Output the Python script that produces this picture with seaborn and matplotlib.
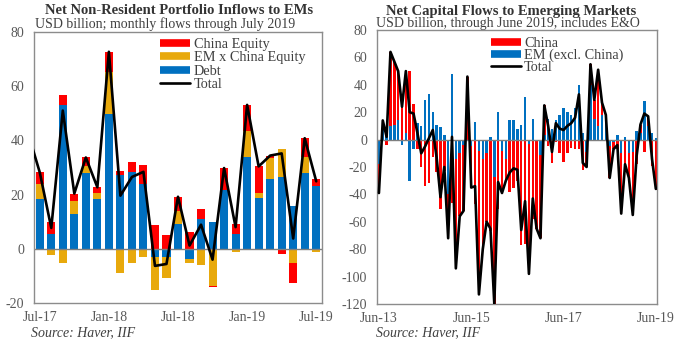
import numpy as np
import pandas as pd
import matplotlib
matplotlib.use("Agg")
import matplotlib.pyplot as plt
import seaborn as sns
from matplotlib.lines import Line2D

sns.set_style("white")
plt.rcParams["font.family"] = ["Liberation Serif", "DejaVu Serif"]

# ---------------- Left chart data ----------------
left_months = ["Jul-17", "Aug-17", "Sep-17", "Oct-17", "Nov-17", "Dec-17",
               "Jan-18", "Feb-18", "Mar-18", "Apr-18", "May-18", "Jun-18",
               "Jul-18", "Aug-18", "Sep-18", "Oct-18", "Nov-18", "Dec-18",
               "Jan-19", "Feb-19", "Mar-19", "Apr-19", "May-19", "Jun-19", "Jul-19"]
debt = [18.3, 5.3, 53.0, 12.9, 27.9, 18.3, 49.6, 27.3, 28.3, 23.9, -3.1, -3.1,
        9.3, -3.7, 11.0, 9.8, 21.8, 5.3, 33.7, 18.6, 25.7, 26.5, 15.9, 27.8, 23.3]
em_x_china_equity = [5.6, -2.3, -5.2, 4.7, 2.5, 2.2, 15.7, -8.9, -5.3, -2.9, -12.1, -7.8,
                     4.8, -1.5, -5.8, -13.7, -0.5, -1.2, 9.8, 2.1, 7.7, 10.4, -5.1, 5.9, -1.2]
china_equity = [4.3, 4.7, 3.9, 2.8, 3.3, 2.2, 7.4, 1.5, 3.7, 7.1, 8.8, 5.1,
                5.1, 6.3, 3.7, -0.3, 8.2, 3.9, 9.6, 9.7, 1.0, -1.8, -7.4, 7.1, 2.5]
left_total_months = ["Jun-17"] + left_months
left_total = [42.5, 28.2, 7.7, 51.0, 20.4, 33.7, 22.7, 72.7, 19.6, 26.5, 28.4, -6.3, -5.6,
              19.2, 1.2, 8.9, -4.0, 29.8, 8.0, 53.1, 30.4, 34.4, 35.2, 3.8, 40.8, 24.9]
left_ticks = ["Jul-17", "Jan-18", "Jul-18", "Jan-19", "Jul-19"]
left_yticks = [-20, 0, 20, 40, 60, 80]

# ---------------- Right chart data ----------------
right_months = [p.strftime("%b-%y") for p in pd.period_range("2013-06", "2019-06", freq="M")]
right_total = [-39, 14, 2, 64, 57, 50, 24, 50, 20, 19, 5, -10, -5, 1, 7, -13, -42, -20,
               -72, 2, -94, -56, -52, 46, -35, -34, -113, -80, -60, -65, -120, -31, -39, -30,
               -24, -21, -22, -66, -45, -98, -43, -65, -72, 25, 10, -9, 12, 8, 7, 10, 12, 16,
               33, -17, -20, 55, 29, 51, 27, 18, -28, -7, -4, -54, -18, -28, -55, -12, 11, 19,
               17, -14, -36]
em_excl_china = [-18, 9, 6, 10, 11, 14, -4, 5, -30, -7, 12, 10, 29, 33, 20, 11, 9, 3,
                 -40, 48, -14, -10, -4, 0, -5, 13, -8, -14, -10, 2, -27, 20, -8, -14,
                 14, 14, 8, 11, 31, -3, 15, 0, -11, 3, 15, 8, 14, 18, 23, 20, 18, 23,
                 40, 5, -9, 40, 15, 10, 18, 18, -5, -2, 3, -10, 2, -10, -9, 6, 5, 28,
                 10, 5, 1]
china = [-21, 5, -4, 54, 46, 36, 28, 45, 50, 26, -7, -20, -34, -32, -13, -24, -51, -23,
         -32, -46, -80, -46, -48, 46, -30, -47, -105, -66, -50, -67, -93, -51, -31, -16,
         -38, -35, -30, -77, -76, -95, -58, -65, -61, 22, -5, -17, -2, -10, -16, -10, -6, -7,
         -7, -22, -11, 15, 14, 41, 9, 0, -23, -5, -7, -44, -20, -18, -46, -18, 6, -9,
         7, -19, -37]
right_ticks = ["Jun-13", "Jun-15", "Jun-17", "Jun-19"]
right_yticks = [-120, -100, -80, -60, -40, -20, 0, 20, 40, 60, 80]

RED = "#FF0000"
GOLD = "#E8A90C"
BLUE = "#0070C0"
GREY_TXT = "#595959"
FRAME = "#8C8C8C"


def stack_bottoms(series_list):
    n = len(series_list[0])
    pos_base = np.zeros(n)
    neg_base = np.zeros(n)
    out = []
    for s in series_list:
        s = np.asarray(s, float)
        out.append(np.where(s >= 0, pos_base, neg_base))
        pos_base = pos_base + np.where(s >= 0, s, 0)
        neg_base = neg_base + np.where(s < 0, s, 0)
    return out


def style_axes(ax):
    for sp in ax.spines.values():
        sp.set_visible(True)
        sp.set_color(FRAME)
        sp.set_linewidth(1.0)
    ax.tick_params(axis="both", length=0, labelsize=10, colors=GREY_TXT)
    ax.tick_params(axis="y", pad=7)
    ax.tick_params(axis="x", pad=6)
    ax.axhline(0, color="#7F7F7F", lw=1.0, zorder=1.5)
    ax.set_xlabel("")
    ax.set_ylabel("")


fig = plt.figure(figsize=(6.8, 3.42), dpi=100)
axL = fig.add_axes([34 / 680, 1 - 303 / 342, (322 - 34) / 680, (303 - 32) / 342])
axR = fig.add_axes([377 / 680, 1 - 304 / 342, (657 - 377) / 680, (304 - 30) / 342])

# ---------- Left chart ----------
posL = np.arange(len(left_months))
left_series = [(debt, BLUE), (em_x_china_equity, GOLD), (china_equity, RED)]
botsL = stack_bottoms([s for s, _ in left_series])
for (vals, col), b in zip(left_series, botsL):
    sns.barplot(x=posL, y=vals, bottom=b, native_scale=True, width=0.7, color=col,
                saturation=1, errorbar=None, linewidth=0, ax=axL, zorder=1)
posLT = np.arange(len(left_total_months)) - 1
sns.lineplot(x=posLT, y=left_total, color="black", linewidth=1.9, ax=axL,
             legend=False, zorder=3)
style_axes(axL)
axL.set_xlim(-0.5, len(left_months) - 0.5)
axL.set_ylim(-20, 80)
axL.set_yticks(left_yticks)
axL.set_yticklabels([str(v) for v in left_yticks])
axL.set_xticks([left_months.index(t) for t in left_ticks])
axL.set_xticklabels(left_ticks)

handlesL = [Line2D([], [], color=RED, lw=5.5, solid_capstyle="butt"),
            Line2D([], [], color=GOLD, lw=5.5, solid_capstyle="butt"),
            Line2D([], [], color=BLUE, lw=5.5, solid_capstyle="butt"),
            Line2D([], [], color="black", lw=1.9)]
legL = fig.legend(handlesL, ["China Equity", "EM x China Equity", "Debt", "Total"],
                  loc="upper left", bbox_to_anchor=(160 / 680, 1 - 38 / 342),
                  frameon=False, fontsize=10.3, handlelength=2.1, handletextpad=0.25,
                  labelspacing=0.02, borderpad=0, borderaxespad=0)
for t in legL.get_texts():
    t.set_color("#404040")

# ---------- Right chart ----------
posR = np.arange(len(right_months))
right_series = [(em_excl_china, BLUE), (china, RED)]
botsR = stack_bottoms([s for s, _ in right_series])
for (vals, col), b in zip(right_series, botsR):
    sns.barplot(x=posR, y=vals, bottom=b, native_scale=True, width=0.65, color=col,
                saturation=1, errorbar=None, linewidth=0, ax=axR, zorder=1)
sns.lineplot(x=posR, y=right_total, color="black", linewidth=1.9, ax=axR,
             legend=False, zorder=3)
style_axes(axR)
axR.set_xlim(-0.5, len(right_months) - 0.7)
axR.set_ylim(-120, 80)
axR.set_yticks(right_yticks)
axR.set_yticklabels([str(v) for v in right_yticks])
axR.set_xticks([right_months.index(t) for t in right_ticks])
axR.set_xticklabels(right_ticks)

handlesR = [Line2D([], [], color=RED, lw=5.5, solid_capstyle="butt"),
            Line2D([], [], color=BLUE, lw=5.5, solid_capstyle="butt"),
            Line2D([], [], color="black", lw=1.9)]
legR = fig.legend(handlesR, ["China", "EM (excl. China)", "Total"],
                  loc="upper left", bbox_to_anchor=(491 / 680, 1 - 37 / 342),
                  frameon=False, fontsize=10.3, handlelength=2.1, handletextpad=0.2,
                  labelspacing=-0.08, borderpad=0, borderaxespad=0)
for t in legR.get_texts():
    t.set_color("#404040")

# ---------- Titles & sources ----------
fig.text(179 / 680, 1 - 11 / 342, "Net Non-Resident Portfolio Inflows to EMs",
         ha="center", va="center", fontsize=10.5, fontweight="bold", color="#333333")
fig.text(35 / 680, 1 - 24 / 342, "USD billion; monthly flows through July 2019",
         ha="left", va="center", fontsize=10, color="#404040")
fig.text(511 / 680, 1 - 11 / 342, "Net Capital Flows to Emerging Markets",
         ha="center", va="center", fontsize=10.5, fontweight="bold", color="#333333")
fig.text(376 / 680, 1 - 23 / 342, "USD billion, through June 2019, includes E&O",
         ha="left", va="center", fontsize=10, color="#404040")
fig.text(31 / 680, 1 - 333 / 342, "Source: Haver, IIF", ha="left", va="center",
         fontsize=10, style="italic", color="#404040")
fig.text(376 / 680, 1 - 333 / 342, "Source: Haver, IIF", ha="left", va="center",
         fontsize=10, style="italic", color="#404040")

fig.savefig("out.png", dpi=100)
